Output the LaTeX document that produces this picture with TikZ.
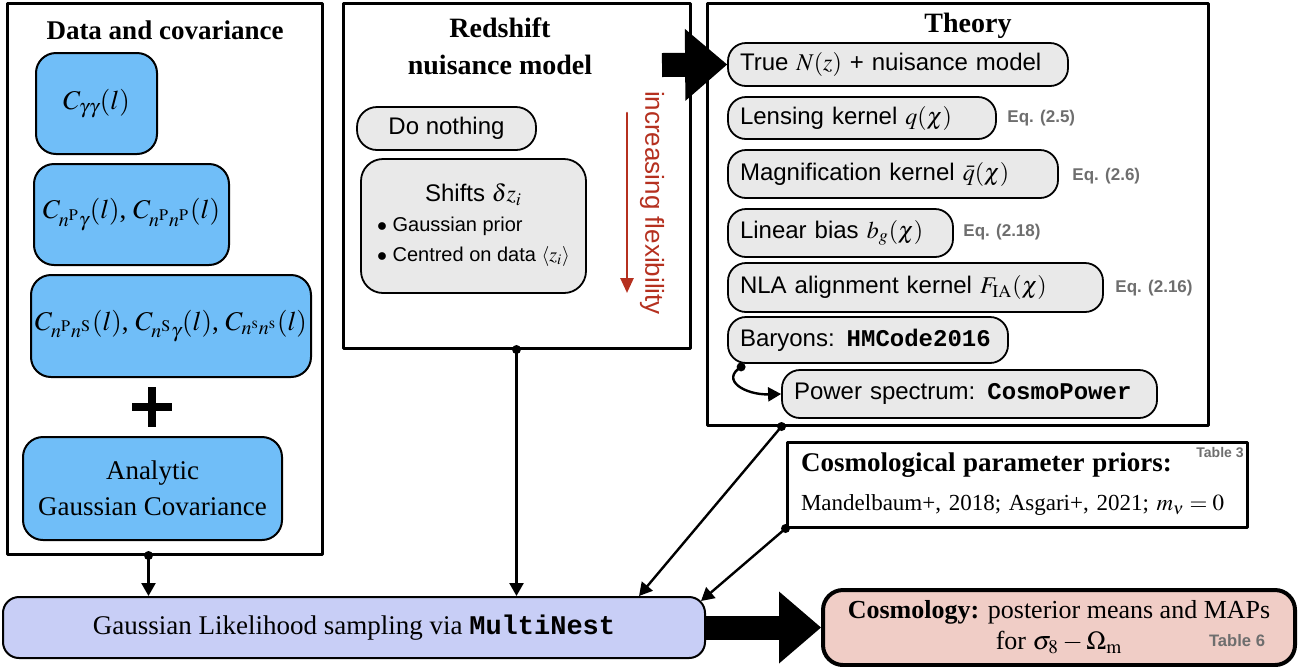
\documentclass[tikz,border=0pt]{standalone}
\usepackage{mathptmx}
\usepackage{fontspec}
\setmainfont{Liberation Serif}
\setsansfont{Liberation Sans}
\setmonofont{Liberation Mono}
\usetikzlibrary{arrows.meta,calc}

\definecolor{datablue}{HTML}{70BEF8}
\definecolor{likeblue}{HTML}{C8CEF6}
\definecolor{boxgrey}{HTML}{E9E9E9}
\definecolor{cosmopink}{HTML}{F0CDC6}
\definecolor{flexred}{HTML}{B5301F}
\definecolor{eqgrey}{HTML}{6E6E6E}

\tikzset{
  bigbox/.style={draw, line width=1.5pt, inner sep=0pt},
  bluebox/.style={draw, line width=1pt, rounded corners=10pt, fill=datablue, inner sep=0pt,
    align=center, font=\fontsize{13.5}{18}\selectfont},
  greybox/.style={draw, line width=0.9pt, rounded corners=9pt, fill=boxgrey, inner sep=0pt,
    font=\sffamily\fontsize{12}{14}\selectfont},
  thbox/.style={greybox, align=left, inner xsep=6pt, inner ysep=0pt},
  eqlabel/.style={anchor=west, text=eqgrey, inner sep=0pt, font=\sffamily\bfseries\fontsize{8.5}{10}\selectfont},
  boxtitle/.style={align=center, inner sep=0pt, font=\bfseries\fontsize{14}{18.5}\selectfont},
  conn/.style={line width=1.2pt, -{Triangle[length=6.5pt,width=7pt]}},
  fatarrow/.style={line width=12pt, line cap=butt, -{Triangle[length=21pt,width=36pt,line width=0pt]}},
}

\begin{document}
\begin{tikzpicture}[x=0.5pt, y=-0.5pt, line join=round, line cap=round, >=stealth]
\useasboundingbox (0,0) rectangle (1315,666);

% data and covariance
\node[bigbox, minimum width=157.5pt, minimum height=275.5pt] (data) at (164.5,278.5) {};
\node[boxtitle, font=\bfseries\fontsize{13.5}{16}\selectfont] (datatitle) at (165,30) {Data and covariance};
\node[bluebox, minimum width=60.5pt, minimum height=50.5pt] (cgg) at (96.5,103.5) {$C_{\gamma\gamma}(l)$};
\node[bluebox, minimum width=97.5pt, minimum height=50.5pt] (cpg) at (131.5,214.5)
  {$C_{n^{\rm P}\gamma}(l)$, $C_{n^{\rm P}n^{\rm P}}(l)$};
\node[bluebox, minimum width=140pt, minimum height=51pt] (cps) at (171,326)
  {$C_{n^{\rm P}n^{\rm S}}(l)$, $C_{n^{\rm S}\gamma}(l)$, $C_{n^{\rm s}n^{\rm s}}(l)$};
\draw[line width=4pt, line cap=butt] (132,407) -- (172,407) (152,387) -- (152,427);
\node[bluebox, minimum width=129.5pt, minimum height=51.5pt] (cov) at (152.5,488.5)
  {Analytic\\Gaussian Covariance};

% redshift nuisance model
\node[bigbox, minimum width=173.5pt, minimum height=172.5pt] (rs) at (516.5,175.5) {};
\node[boxtitle] (rstitle) at (500,46.5) {Redshift\\nuisance model};
\node[greybox, rounded corners=10pt, minimum width=89.5pt, minimum height=21.5pt] (nothing) at (446.5,128.5) {Do nothing};
\node[greybox, rounded corners=11pt, minimum width=112.5pt, minimum height=67pt] (shifts) at (473.5,226)
  {\raisebox{-3pt}{\begin{tabular}{@{}c@{}}Shifts $\delta z_i$\\[1pt]
   \fontsize{10}{14}\selectfont\begin{tabular}{@{}l@{}}$\bullet$ Gaussian prior\\[1pt] $\bullet$ Centred on data $\langle z_i\rangle$\end{tabular}\end{tabular}}};
\coordinate (flextop) at (627,113);
\coordinate (flexbot) at (627,293);
\draw[flexred, line width=1.3pt, -{Triangle[length=7.5pt,width=6.5pt]}] (flextop) -- (flexbot);
\node[rotate=-90, text=flexred, inner sep=0pt, font=\sffamily\fontsize{13}{15}\selectfont] (flexlabel) at (652,203) {increasing flexibility};

% theory
\node[bigbox, minimum width=250.5pt, minimum height=211pt] (theory) at (957.5,214) {};
\node[boxtitle] (thtitle) at (968,26) {Theory};
\node[thbox, text width=158pt, minimum height=21.5pt] (truenz) at (898,64.5) {True $N(z)$ + nuisance model};
\node[thbox, text width=122pt, minimum height=21pt] (lensing) at (862,118) {Lensing kernel $q(\chi)$};
\node[thbox, text width=153pt, minimum height=24pt] (magn) at (893,174) {Magnification kernel $\bar{q}(\chi)$};
\node[thbox, text width=100.5pt, minimum height=24pt] (bias) at (840.5,233) {Linear bias $b_g(\chi)$};
\node[thbox, text width=175.5pt, minimum height=24.5pt] (nla) at (915.5,287.5) {NLA alignment kernel $F_{\rm IA}(\chi)$};
\node[thbox, text width=128pt, minimum height=23pt] (baryons) at (868,340) {Baryons: \texttt{\bfseries HMCode2016}};
\node[thbox, text width=175.5pt, minimum height=24pt] (power) at (969.5,394) {Power spectrum: \texttt{\bfseries CosmoPower}};
\node[eqlabel] (eqlens) at (1007,118) {Eq. (2.5)};
\node[eqlabel] (eqmagn) at (1072,176) {Eq. (2.6)};
\node[eqlabel] (eqbias) at (963,232) {Eq. (2.18)};
\node[eqlabel] (eqnla) at (1115,288) {Eq. (2.16)};

% priors
\node[bigbox, text width=216pt, inner xsep=7pt, minimum height=42.5pt, align=left,
  font=\fontsize{11.5}{19.5}\selectfont] (priors) at (1017,484.5)
  {{\bfseries\fontsize{13.5}{19.5}\selectfont Cosmological parameter priors:}\\
   Mandelbaum+, 2018; Asgari+, 2021; $m_\nu = 0$};
\node[text=eqgrey, inner sep=0pt, font=\sffamily\bfseries\fontsize{7}{8}\selectfont] (tab3) at (1220,452) {Table 3};

% likelihood and result
\node[draw, line width=1pt, rounded corners=8pt, fill=likeblue, minimum width=351pt, minimum height=30.5pt,
  font=\fontsize{13.5}{16}\selectfont] (lik) at (354,627.5)
  {Gaussian Likelihood sampling via \texttt{\bfseries MultiNest}};
\node[draw, line width=2pt, rounded corners=10pt, fill=cosmopink, minimum width=236pt, minimum height=37.5pt,
  align=center, font=\fontsize{13}{15.5}\selectfont] (cosmo) at (1059,627.5)
  {\textbf{Cosmology:} posterior means and MAPs\\for $\sigma_8 - \Omega_{\rm m}$};
\node[text=eqgrey, inner sep=0pt, font=\sffamily\bfseries\fontsize{8.3}{10}\selectfont] (tab6) at (1237,641) {Table 6};

% connectors
\coordinate (datadot) at ($(data.south west)+(143,0)$);
\coordinate (thdot) at ($(theory.south west)+(76,0)$);
\coordinate (bardot) at ($(baryons.south west)+(14,3)$);
\coordinate (rsout) at (662,65);
\draw[conn] (datadot) -- (datadot |- lik.north);
\draw[conn] (rs.south) -- (rs.south |- lik.north);
\draw[conn] (thdot) -- ($(lik.north east)+(-67,0)$);
\draw[conn] (priors.south west) -- ($(lik.north east)+(-5,5)$);
\draw[conn] (bardot) .. controls (720,380) and (745,395) .. (power.west);
\foreach \d in {datadot, rs.south, thdot, priors.south west, bardot}
  \fill (\d) circle (4.5);
\draw[fatarrow] (rsout) -- (truenz.west);
\draw[fatarrow] (lik.east) -- (cosmo.west);
\end{tikzpicture}
\end{document}
